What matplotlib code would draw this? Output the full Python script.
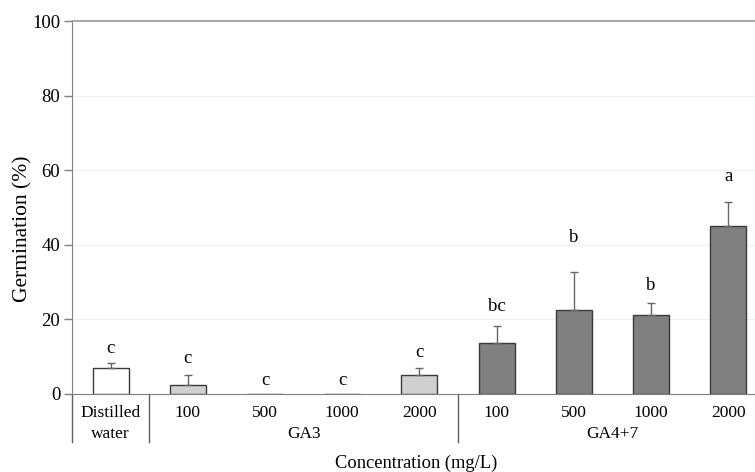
import matplotlib
matplotlib.use("Agg")
import matplotlib.pyplot as plt
from matplotlib.transforms import blended_transform_factory
from matplotlib.lines import Line2D

# ---- data ----
row1_labels = ["Distilled", "100", "500", "1000", "2000", "100", "500", "1000", "2000"]
groups = ["water", "GA3", "GA4+7"]
group_spans = [(0, 0), (1, 4), (5, 8)]
germination = [7.0, 2.5, 0.0, 0.0, 5.0, 13.8, 22.5, 21.3, 45.0]
err_upper = [1.2, 2.5, 0.0, 0.0, 2.0, 4.4, 10.1, 3.1, 6.4]
letters = ["c", "c", "c", "c", "c", "bc", "b", "b", "a"]
letter_base = [10.9, 8.2, 2.4, 2.4, 9.8, 22.3, 40.8, 27.9, 57.2]
bar_colors = ["#ffffff"] + ["#d0d0d0"] * 4 + ["#808080"] * 4
yticks = [0, 20, 40, 60, 80, 100]

plt.rcParams["font.family"] = ["Liberation Serif", "DejaVu Serif"]

fig = plt.figure(figsize=(7.55, 4.72), dpi=100)
W, H = 755, 472
x0, y0 = 72, 394
ax_w = 9 * 77.2
ax_h = 373
ax = fig.add_axes([x0 / W, (H - y0) / H, ax_w / W, ax_h / H])

xs = list(range(len(germination)))
ax.bar(xs, germination, width=0.466, color=bar_colors, edgecolor="#3a3a3a",
       linewidth=1.0, zorder=3)
for x, v, e in zip(xs, germination, err_upper):
    if e > 0:
        ax.errorbar([x], [v], yerr=[[0], [e]], fmt="none", ecolor="#666666",
                    elinewidth=1.0, capsize=3, capthick=1.0, zorder=4)
for x, t, y in zip(xs, letters, letter_base):
    ax.text(x, y, t, ha="center", va="baseline", fontsize=13.5, color="black")

ax.set_xlim(-0.5, 8.5)
ax.set_ylim(0, 100)
ax.set_yticks(yticks)
ax.set_yticklabels([str(t) for t in yticks], fontsize=13.5)
ax.yaxis.grid(True, color="#efefef", linewidth=0.8, zorder=0)
ax.set_axisbelow(True)
ax.tick_params(axis="y", length=6, width=1, color="#808080", pad=2.5)
ax.set_xticks([])
ax.spines["right"].set_visible(False)
ax.spines["top"].set_color("#9a9a9a")
ax.spines["top"].set_linewidth(1.2)
ax.spines["left"].set_color("#808080")
ax.spines["bottom"].set_color("#808080")

trans = blended_transform_factory(ax.transData, ax.transAxes)
row1_y = (y0 - 417) / ax_h
row2_y = (y0 - 438) / ax_h
line_bottom = (y0 - 442) / ax_h

for x, lab in zip(xs, row1_labels):
    ax.text(x, row1_y, lab, transform=trans, ha="center", va="baseline", fontsize=12.5)
for (a, b), g in zip(group_spans, groups):
    ax.text((a + b) / 2, row2_y, g, transform=trans, ha="center", va="baseline", fontsize=12.5)

for xb in [-0.5, 0.5, 4.5]:
    ax.add_line(Line2D([xb, xb], [0, line_bottom], transform=trans, color="#606060",
                       linewidth=1.0, clip_on=False))

fig.text(416 / W, 1 - 468 / H, "Concentration (mg/L)", ha="center", va="baseline", fontsize=13.3)
fig.text(23 / W, 1 - 229 / H, "Germination (%)", ha="center", va="center",
         rotation=90, fontsize=15.5)

fig.savefig("out.png", dpi=100)
